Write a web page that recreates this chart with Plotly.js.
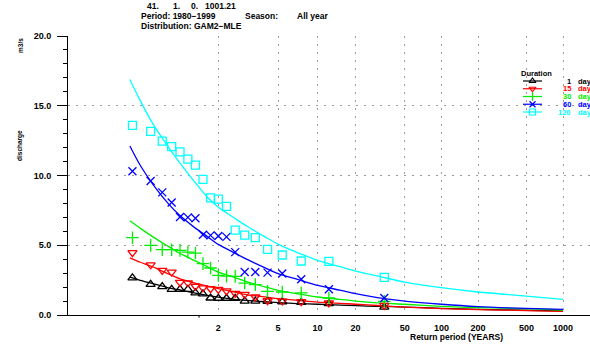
<!DOCTYPE html>
<html>
<head>
<meta charset="utf-8">
<script src="https://cdn.plot.ly/plotly-3.0.1.min.js"></script>
<style>html,body{margin:0;padding:0;background:#fff;}#chart{width:590px;height:345px;}</style>
</head>
<body>
<div id="chart"></div>
<script>
// ---------- data ----------
// return periods (years) of the plotted observations (same for every duration)
const returnPeriods = [1.03,1.089,1.155,1.229,1.313,1.41,1.522,1.654,1.811,2.0,2.234,2.529,2.915,3.439,4.193,5.371,7.469,12.26,34.14];
// observed discharges (m3/s)
const obs1   = [2.66,2.20,2.03,1.84,1.84,1.84,1.59,1.52,1.22,1.20,1.20,1.20,1.00,1.00,0.98,0.95,0.91,0.82,0.57];
const obs15  = [4.47,3.60,3.20,3.08,2.34,2.31,2.06,1.95,1.88,1.84,1.73,1.55,1.48,1.29,1.02,1.00,0.96,0.86,0.69];
const obs30  = [5.54,4.99,4.68,4.68,4.63,4.51,4.44,3.68,3.37,2.84,2.79,2.77,2.29,2.18,1.70,1.65,1.58,1.22,0.98];
const obs60  = [10.30,9.60,8.79,8.07,7.03,7.00,6.93,5.75,5.71,5.66,5.60,4.51,3.08,3.08,3.04,2.97,2.56,1.84,1.22];
const obs120 = [13.59,13.16,12.46,12.07,11.70,11.17,10.74,9.72,8.40,8.31,7.79,6.09,5.73,5.55,4.70,4.30,3.87,3.85,2.70];
// fitted GAM2 curves, read at these return periods
const curveT   = [1.025,1.05,1.1,1.2,1.3,1.5,1.75,2,2.5,3,4,5,7,10,15,20,30,50,100,200,500,1000];
const fit1   = [2.72,2.49,2.25,1.95,1.81,1.59,1.41,1.28,1.12,1.05,0.95,0.89,0.82,0.77,0.71,0.67,0.62,0.57,0.48,0.41,0.34,0.29];
const fit15  = [4.10,3.78,3.45,2.95,2.63,2.31,2.07,1.89,1.64,1.45,1.30,1.17,1.05,0.93,0.84,0.77,0.68,0.57,0.46,0.39,0.32,0.26];
const fit30  = [6.75,6.21,5.60,4.92,4.46,3.92,3.45,3.08,2.70,2.39,2.02,1.77,1.52,1.29,1.12,1.00,0.87,0.77,0.62,0.53,0.45,0.36];
const fit60  = [12.12,10.72,9.37,7.98,7.20,6.30,5.60,5.06,4.45,4.00,3.39,2.97,2.56,2.13,1.78,1.53,1.25,1.00,0.77,0.60,0.47,0.40];
const fit120 = [16.88,15.35,13.70,12.05,11.00,9.60,8.42,7.72,6.95,6.38,5.62,5.08,4.47,3.92,3.46,3.15,2.80,2.36,1.96,1.65,1.36,1.12];
// axis ticks
const xTickPeriods = [2,5,10,20,50,100,200,500,1000];
const xTickLabels  = ["2","5","10","20","50","100","200","500","1000"];
const yTickValues  = [0,5,10,15,20];
// series names / legend
const durations = ["1","15","30","60","120"];

// ---------- styling ----------
const FONT = "Liberation Sans, Arial, Helvetica, sans-serif";
const colors  = ["#000000","#ff0000","#00ee00","#0000ff","#00ffff"];
const symbols = ["triangle-up-open","triangle-down-open","cross-thin","x-thin","square-open"];
const msizes  = [8,8,9,8,8];
const obsSets = [obs1,obs15,obs30,obs60,obs120];
const fitSets = [fit1,fit15,fit30,fit60,fit120];

// Gumbel reduced variate: the probability scale of the x axis
const gumbel = T => -Math.log(-Math.log(1 - 1/T));

// plot area in pixels: x 68..590, y 36..315
const PL = 68, PR = 590, PT = 36, PB = 315;
const px = x => (x - PL) / (PR - PL);
const py = y => (PB - y) / (PB - PT);

const traces = [];
for (let k = 0; k < durations.length; k++) {
  traces.push({
    x: curveT.map(gumbel), y: fitSets[k], type: "scatter", mode: "lines",
    line: {color: colors[k], width: 1.3, shape: "spline", smoothing: 0.8},
    hoverinfo: "skip", showlegend: false
  });
}
for (let k = 0; k < durations.length; k++) {
  traces.push({
    x: returnPeriods.map(gumbel), y: obsSets[k], type: "scatter", mode: "markers",
    marker: {symbol: symbols[k], size: msizes[k], color: colors[k],
             line: {color: colors[k], width: 1.3}},
    cliponaxis: false, showlegend: false
  });
}

// legend drawn on an overlay axis pair whose units are image pixels
const legTop = 81, legStep = 7.75, legX0 = 523, legX1 = 542;
const annotations = [];
for (let k = 0; k < durations.length; k++) {
  const ry = legTop + k * legStep;
  traces.push({x: [legX0, legX1], y: [ry, ry], xaxis: "x2", yaxis: "y2", mode: "lines",
               line: {color: colors[k], width: 1.2}, showlegend: false, hoverinfo: "skip"});
  traces.push({x: [(legX0 + legX1) / 2], y: [ry], xaxis: "x2", yaxis: "y2", mode: "markers",
               marker: {symbol: symbols[k], size: 6, color: colors[k], line: {color: colors[k], width: 1.2}},
               showlegend: false, hoverinfo: "skip"});
  annotations.push({xref: "x2", yref: "y2", x: 572, y: ry, xanchor: "right", yanchor: "middle",
                    text: "<b>" + durations[k] + "</b>", showarrow: false, borderpad: 0,
                    font: {family: FONT, size: 7.5, color: colors[k]}});
  annotations.push({xref: "x2", yref: "y2", x: 577, y: ry, xanchor: "left", yanchor: "middle",
                    text: "<b>day</b>", showarrow: false, borderpad: 0,
                    font: {family: FONT, size: 7.5, color: colors[k]}});
}
annotations.push({xref: "x2", yref: "y2", x: 520, y: 73, xanchor: "left", yanchor: "middle",
                  text: "<b>Duration</b>", showarrow: false, borderpad: 0, font: {family: FONT, size: 7.5, color: "#000"}});

// header and axis titles
const txt = (x, y, s, opts) => Object.assign({xref: "paper", yref: "paper", x: px(x), y: py(y),
  xanchor: "left", yanchor: "middle", text: "<b>" + s + "</b>", showarrow: false, borderpad: 0,
  font: {family: FONT, size: 8.5, color: "#000"}}, opts || {});
annotations.push(txt(146, 6, "41."));
annotations.push(txt(172, 6, "1."));
annotations.push(txt(190, 6, "0."));
annotations.push(txt(204, 6, "1001.21"));
annotations.push(txt(140, 16, "Period: 1980\u22121999"));
annotations.push(txt(244, 16, "Season:"));
annotations.push(txt(296, 16, "All year"));
annotations.push(txt(140, 25.5, "Distribution: GAM2\u2212MLE"));
annotations.push(txt(456, 337, "Return period (YEARS)", {xanchor: "center", font: {family: FONT, size: 8.5, color: "#000"}}));
annotations.push(txt(20, 146, "discharge", {xanchor: "center", textangle: -90, font: {family: FONT, size: 6.5, color: "#000"}}));
annotations.push(txt(20, 46, "m3/s", {xanchor: "center", textangle: -90, font: {family: FONT, size: 6.5, color: "#000"}}));
annotations.push(txt(199, 318, "'", {xanchor: "center", font: {family: FONT, size: 8, color: "#000"}}));

const layout = {
  width: 590, height: 345,
  margin: {l: PL, r: 590 - PR, t: PT, b: 345 - PB, pad: 0},
  paper_bgcolor: "#fff", plot_bgcolor: "#fff",
  showlegend: false,
  xaxis: {
    range: [-2.486, 7.419], tickmode: "array",
    tickvals: xTickPeriods.map(gumbel), ticktext: xTickLabels,
    ticks: "", showline: true, linecolor: "#000", linewidth: 1,
    showgrid: true, gridcolor: "#9a9a9a", gridwidth: 1, griddash: "2px,6px",
    zeroline: false, tickfont: {family: FONT, size: 9, color: "#000", weight: "bold"},
    ticklabelstandoff: 4, fixedrange: true
  },
  yaxis: {
    range: [0, 20], tickmode: "array", tickvals: yTickValues, tickformat: ".1f",
    ticks: "outside", ticklen: 10, tickwidth: 1, tickcolor: "#000",
    showline: true, linecolor: "#000", linewidth: 1,
    showgrid: true, gridcolor: "#9a9a9a", gridwidth: 1, griddash: "2px,6px",
    zeroline: false, tickfont: {family: FONT, size: 9, color: "#000", weight: "bold"},
    ticklabelstandoff: 4,
    minor: {tickmode: "linear", tick0: 0, dtick: 1, ticks: "outside", ticklen: 4, tickwidth: 1, tickcolor: "#000", showgrid: false}
  },
  xaxis2: {overlaying: "x", range: [PL, PR], visible: false, fixedrange: true},
  yaxis2: {overlaying: "y", range: [PB, PT], visible: false, fixedrange: true},
  annotations: annotations
};

Plotly.newPlot("chart", traces, layout, {staticPlot: true, displayModeBar: false});
</script>
</body>
</html>
